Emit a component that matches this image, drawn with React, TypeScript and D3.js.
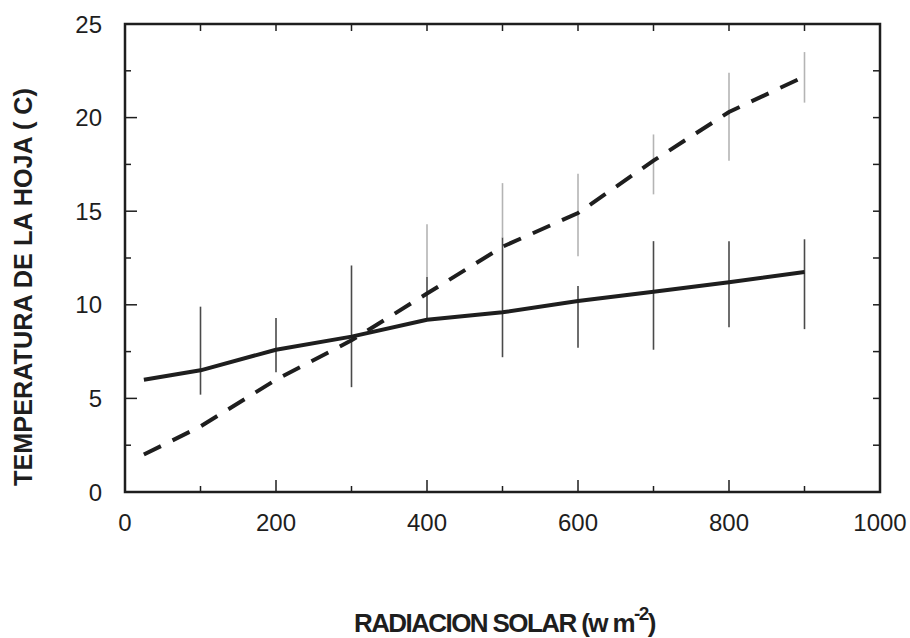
import React, { useEffect, useRef } from 'react';
import * as d3 from 'd3';

// radiación solar (w m-2)
const radiation = [25, 100, 200, 300, 400, 500, 600, 700, 800, 900];
// temperatura de la hoja, serie continua
const solidTemp = [6.0, 6.5, 7.6, 8.3, 9.2, 9.6, 10.2, 10.7, 11.2, 11.75];
// temperatura de la hoja, serie discontinua
const dashedTemp = [2.0, 3.5, 6.0, 8.1, 10.6, 13.1, 14.9, 17.7, 20.3, 22.2];

// barras de error (x, bajo, alto)
const solidBarX = [100, 200, 300, 400, 500, 600, 700, 800, 900];
const solidBarLow = [5.2, 6.4, 5.6, 9.2, 7.2, 7.7, 7.6, 8.8, 8.7];
const solidBarHigh = [9.9, 9.3, 12.1, 11.5, 13.6, 11.0, 13.4, 13.4, 13.5];
const dashedBarX = [400, 500, 600, 700, 800, 900];
const dashedBarLow = [11.5, 13.6, 12.6, 15.9, 17.7, 20.8];
const dashedBarHigh = [14.3, 16.5, 17.0, 19.1, 22.4, 23.5];

const xTicks = [0, 200, 400, 600, 800, 1000];
const yTicks = [0, 5, 10, 15, 20, 25];

const W = 910;
const H = 638;
const font = '"Liberation Sans", Arial, sans-serif';

const App = () => {
    const svgRef = useRef<SVGSVGElement>(null);

    useEffect(() => {
        if (!svgRef.current) return;
        const svg = d3.select(svgRef.current);
        svg.selectAll('*').remove();

        const x = d3.scaleLinear().domain([0, 1000]).range([125, 880]);
        const y = d3.scaleLinear().domain([0, 25]).range([492, 24]);
        const ink = '#1e1e1e';

        // error bars
        const drawBars = (xs: number[], lo: number[], hi: number[], color: string) => {
            svg.append('g')
                .selectAll('line')
                .data(xs)
                .join('line')
                .attr('x1', d => x(d))
                .attr('x2', d => x(d))
                .attr('y1', (d, i) => y(lo[i]))
                .attr('y2', (d, i) => y(hi[i]))
                .attr('stroke', color)
                .attr('stroke-width', 1.6);
        };
        drawBars(solidBarX, solidBarLow, solidBarHigh, '#4a4a4a');
        drawBars(dashedBarX, dashedBarLow, dashedBarHigh, '#b4b4b4');

        const line = (vals: number[]) => d3.line<number>()
            .x((d, i) => x(radiation[i]))
            .y(d => y(d))(vals);

        svg.append('path')
            .attr('d', line(solidTemp))
            .attr('fill', 'none')
            .attr('stroke', ink)
            .attr('stroke-width', 4)
            .attr('stroke-linejoin', 'round');

        svg.append('path')
            .attr('d', line(dashedTemp))
            .attr('fill', 'none')
            .attr('stroke', ink)
            .attr('stroke-width', 4)
            .attr('stroke-dasharray', '19,13');

        // axes with inward ticks on all four sides
        const minorX = d3.range(0, 1001, 100);
        const minorY = d3.range(0, 25.01, 2.5);
        const frame = svg.append('g').attr('stroke', ink).attr('stroke-width', 1.5);
        minorX.forEach(v => {
            const len = v % 200 === 0 ? 12 : 6;
            frame.append('line').attr('x1', x(v)).attr('x2', x(v)).attr('y1', y(0)).attr('y2', y(0) - len);
            frame.append('line').attr('x1', x(v)).attr('x2', x(v)).attr('y1', y(25)).attr('y2', y(25) + 7);
        });
        minorY.forEach(v => {
            const len = v % 5 === 0 ? 12 : 6;
            frame.append('line').attr('x1', x(0)).attr('x2', x(0) + len).attr('y1', y(v)).attr('y2', y(v));
            frame.append('line').attr('x1', x(1000)).attr('x2', x(1000) - 7).attr('y1', y(v)).attr('y2', y(v));
        });
        svg.append('rect')
            .attr('x', x(0)).attr('y', y(25))
            .attr('width', x(1000) - x(0)).attr('height', y(0) - y(25))
            .attr('fill', 'none').attr('stroke', ink).attr('stroke-width', 2.5);

        svg.append('g')
            .selectAll('text')
            .data(xTicks)
            .join('text')
            .attr('x', d => x(d))
            .attr('y', 531)
            .attr('text-anchor', 'middle')
            .attr('fill', ink)
            .style('font-family', font)
            .style('font-size', '24px')
            .text(d => d);

        svg.append('g')
            .selectAll('text')
            .data(yTicks)
            .join('text')
            .attr('x', 102)
            .attr('y', d => y(d) + 8.5)
            .attr('text-anchor', 'end')
            .attr('fill', ink)
            .style('font-family', font)
            .style('font-size', '24px')
            .text(d => d);

        // axis titles
        svg.append('text')
            .attr('transform', 'translate(32,287) rotate(-90)')
            .attr('text-anchor', 'middle')
            .attr('fill', ink)
            .attr('textLength', 398)
            .attr('lengthAdjust', 'spacingAndGlyphs')
            .style('font-family', font)
            .style('font-size', '25px')
            .style('font-weight', 'bold')
            .text('TEMPERATURA DE LA HOJA ( C)');

        const xt = svg.append('text')
            .attr('x', 354)
            .attr('y', 632)
            .attr('fill', ink)
            .style('font-family', font)
            .style('font-size', '26px')
            .style('font-weight', 'bold')
            .style('letter-spacing', '-1.6px');
        xt.append('tspan').text('RADIACION SOLAR (w m');
        xt.append('tspan').attr('dy', -12).style('font-size', '19px').text('-2');
        xt.append('tspan').attr('dy', 12).text(')');
    }, []);

    return (
        <svg
            ref={svgRef}
            width={W}
            height={H}
            style={{ position: 'absolute', left: 0, top: 0, background: '#fff' }}
        />
    );
};

export default App;
